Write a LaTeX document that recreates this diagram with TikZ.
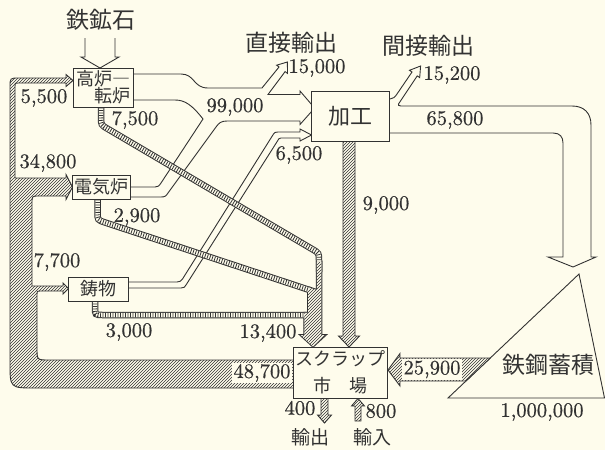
\documentclass[tikz,border=0pt]{standalone}
\usepackage{fontspec}
\newfontfamily\jpfont{Noto Sans CJK JP}
\newfontfamily\numfont{lmroman10-regular.otf}[FakeBold=0.6]
\usetikzlibrary{patterns}
\definecolor{paper}{RGB}{254,252,236}
\definecolor{ink}{RGB}{50,50,50}
\begin{document}
\begin{tikzpicture}[x=1pt,y=-1pt,line join=miter,
  wflow/.style={draw=ink,line width=0.9pt,fill=paper},
  hflow/.style={draw=ink,line width=0.9pt,preaction={fill=paper},pattern=north east lines,pattern color=ink},
  ladder/.style={draw=ink,line width=6.5pt,
    postaction={draw=paper,line width=4.5pt},
    postaction={draw=ink,line width=4.5pt,dash pattern=on 0.8pt off 1.7pt}},
  jbox/.style={draw=ink,line width=0.9pt,fill=paper,inner sep=0pt,text=ink,font=\jpfont\fontsize{18}{17}\selectfont},
  numlbl/.style={font=\numfont\fontsize{20.5}{20.5}\selectfont,text=ink,inner sep=0pt},
  ttl/.style={font=\jpfont\fontsize{23}{23}\selectfont,text=ink,inner sep=0pt},
  sttl/.style={font=\jpfont\fontsize{19}{19}\selectfont,text=ink,inner sep=0pt}]
\useasboundingbox (0,0) rectangle (605,450);
\fill[paper] (0,0) rectangle (605,450);

% white flows
\draw[wflow] (118,74) -- (181,74) .. controls (195,74) and (193,88) .. (208,88) -- (262,88)
  -- (279,67) -- (276.6,65.2) -- (287.4,62) -- (287.5,73.4) -- (285.1,71.6) -- (268,94.5)
  -- (300,94.5) -- (300,91) -- (312,105) -- (312,111) -- (300,124.5) -- (300,121)
  -- (227,121) .. controls (221,121) and (219,123) .. (216,127) -- (168,193)
  .. controls (166,196) and (165,197) .. (161,197) -- (118,197) -- (118,187) -- (155,187)
  .. controls (158,187) and (159,186) .. (161,183) -- (203,119)
  .. controls (192,105) and (185,100) .. (175,100) -- (118,100) -- cycle;
\draw[wflow] (118,282) -- (177,282) .. controls (180,282) and (181,281) .. (182.5,279)
  -- (273.5,134) .. controls (274.5,132.5) and (275.5,132) .. (278,132) -- (300,132)
  -- (300,129) -- (311.5,135) -- (300,141) -- (300,138) -- (281,138)
  .. controls (279,138) and (278.5,139) .. (277.5,141) -- (186,285)
  .. controls (185,287) and (184,288) .. (181,288) -- (118,288) -- cycle;
\draw[wflow] (380,99) -- (390,99) .. controls (393,99) and (395,97) .. (397,94) -- (412,72)
  -- (409.5,70.3) -- (420.6,66) -- (419.7,77.6) -- (417.2,75.9) -- (398.5,104)
  .. controls (398,105) and (398.5,106) .. (401,106) -- (572,106)
  .. controls (584,106) and (591,113) .. (591,125) -- (591,257) -- (596,257) -- (573,267)
  -- (548,257) -- (563,257) -- (563,143) .. controls (563,137) and (560,133) .. (553,133)
  -- (380,133) -- cycle;
\draw[ink,line width=0.9pt] (85,38) -- (85,57) -- (81,57) -- (100,68) -- (119,57) -- (115,57) -- (115,38);

% stock triangle
\draw[wflow] (448,398) -- (579,274) -- (604.5,398) -- cycle;

% hatched scrap flows
\draw[hflow] (300,388) -- (35,388) .. controls (10,388) .. (10,363) -- (10,87)
  .. controls (10,78) .. (19,78) -- (66,78) -- (66,74.5) -- (73,80.5) -- (66,86.5) -- (66,83)
  -- (18,83) .. controls (15,83) .. (15,86) -- (15,178) -- (66,178) -- (66,174.5)
  -- (72.5,187) -- (66,199.5) -- (66,196) -- (39,196) .. controls (32,196) .. (32,203)
  -- (32,286) -- (63,286) -- (63,283) -- (68.5,288.5) -- (63,294) -- (63,291) -- (40,291)
  .. controls (37,291) .. (37,294) -- (37,348) .. controls (37,360) .. (49,360) -- (300,360) -- cycle;
\draw[hflow] (343,138) -- (343,336) -- (338.5,336) -- (349,347) -- (359.5,336) -- (355,336) -- (355,138) -- cycle;
\draw[hflow] (490.3,358) -- (400,358) -- (400,353.5) -- (388,370) -- (400,386) -- (400,381) -- (466,381) -- cycle;
\draw[hflow] (321,395) -- (321,415) -- (317.5,415) -- (324.5,423) -- (331.5,415) -- (328,415) -- (328,395) -- cycle;
\draw[hflow] (355,421) -- (355,406) -- (351.5,406) -- (358,398.5) -- (364.5,406) -- (361,406) -- (361,421) -- cycle;

% merged 13,400 band with three ladders
\draw[ink,line width=2pt] (316.75,262) -- (321.25,262) -- (321.25,335) -- (325.5,335) -- (313,346.5)
  -- (300.5,335) -- (304.25,335) -- (304.25,312.75) -- (308,312.75) -- (308,291.9) -- (309.4,287.6)
  -- (316.75,290) -- cycle;
\path[ladder] (101,100) -- (101,117) .. controls (101,125) .. (108,129) -- (312,249)
  .. controls (319,253) .. (319,261) -- (319,272);
\path[ladder] (97.5,192) -- (97.5,212) .. controls (97.5,220) .. (105.1,222.5) -- (311,290.5);
\path[ladder] (95,296) -- (95,307) .. controls (95,315) .. (103,315) -- (309,315);
\path[preaction={fill=paper},pattern=north east lines,pattern color=ink]
  (316.75,262) -- (321.25,262) -- (321.25,335) -- (325.5,335) -- (313,346.5)
  -- (300.5,335) -- (304.25,335) -- (304.25,312.75) -- (308,312.75) -- (308,291.9) -- (309.4,287.6)
  -- (316.75,290) -- cycle;

% boxes
\node[jbox,minimum width=60pt,minimum height=39pt,align=right] (kouro) at (103,87.5) {高炉―\\転炉};
\node[jbox,minimum width=58pt,minimum height=24pt] (denki) at (101,187) {電気炉};
\node[jbox,minimum width=60pt,minimum height=24pt] (imono) at (98,289) {鋳物};
\node[jbox,minimum width=78pt,minimum height=50pt,font=\jpfont\fontsize{22}{22}\selectfont] (kakou) at (350,116) {加工};
\node[jbox,minimum width=94pt,minimum height=51pt,align=center,font=\jpfont\fontsize{18}{27}\selectfont] (scrap) at (340,372.5) {スクラップ\\市　場};

% titles
\node[ttl] (ore) at (101,20) {鉄鉱石};
\node[ttl] (direx) at (291,43) {直接輸出};
\node[ttl] (index) at (428,46) {間接輸出};
\node[ttl] (stock) at (548,365) {鉄鋼蓄積};
\node[sttl] (exp) at (310,437) {輸出};
\node[sttl] (imp) at (372,437) {輸入};

% numbers
\node[numlbl] (n15000) at (317,68) {15,000};
\node[numlbl] (n15200) at (452,75) {15,200};
\node[numlbl] (n5500) at (44,98) {5,500};
\node[numlbl] (n7500) at (135,120) {7,500};
\node[numlbl] (n99000) at (235,107) {99,000};
\node[numlbl] (n65800) at (455,120) {65,800};
\node[numlbl] (n6500) at (299,155) {6,500};
\node[numlbl] (n34800) at (48,163) {34,800};
\node[numlbl] (n9000) at (386,205) {9,000};
\node[numlbl] (n2900) at (137,217) {2,900};
\node[numlbl] (n7700) at (57,262) {7,700};
\node[numlbl] (n3000) at (129,332) {3,000};
\node[numlbl] (n13400) at (268,333) {13,400};
\node[numlbl,fill=paper,inner sep=1.5pt] (n48700) at (262,373) {48,700};
\node[numlbl,fill=paper,inner sep=1.5pt] (n25900) at (432,369.5) {25,900};
\node[numlbl] (n1000000) at (542,412) {1,000,000};
\node[numlbl] (n400) at (300,408) {400};
\node[numlbl] (n800) at (381,411) {800};
\end{tikzpicture}
\end{document}
